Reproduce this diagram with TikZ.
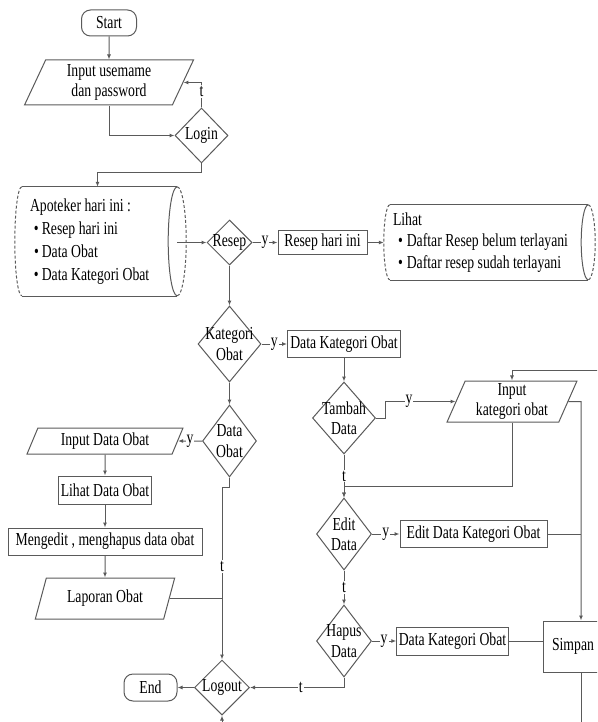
\documentclass[tikz,border=0pt]{standalone}
\usepackage{fontspec}
\setmainfont{Liberation Serif}[FakeStretch=0.75]
\usetikzlibrary{arrows.meta,positioning,calc,shapes.geometric}
\definecolor{lc}{HTML}{5A5A5A}
\newcommand{\fz}{\fontsize{18.3}{20.5}\selectfont}
\tikzset{>={Latex[length=5pt,width=4pt]},
    every node/.style={font=\fz},
    box/.style={draw=lc, line width=1pt, inner sep=2pt},
    term/.style={box, rounded corners=9pt},
    io/.style={box, trapezium, trapezium left angle=70, trapezium right angle=110, trapezium stretches=true, align=center},
    dec/.style={box, diamond, inner sep=0pt},
    flow/.style={draw=lc, line width=1pt, ->},
    link/.style={draw=lc, line width=1pt},
    dashline/.style={draw=lc, line width=1pt, dash pattern=on 3pt off 2pt},
    lbl/.style={fill=white, inner sep=1pt}
}

\begin{document}
\begin{tikzpicture}[x=1pt,y=-1pt]
    \useasboundingbox (0,0) rectangle (597,722);
    \clip (0,0) rectangle (597,722);

    % login
    \node[term, minimum width=55pt, minimum height=26pt] (start) at (109,23) {Start};
    \node[io, minimum width=169pt, minimum height=45pt] (inuser) at (109,82.5) {Input usemame\\dan password};
    \node[dec, minimum width=53pt, minimum height=55pt, label=center:Login] (login) at (201.5,135.5) {};
    \draw[flow] (start.south) -- (inuser.north);
    \draw[flow] (inuser.south) |- (login.west);
    \draw[flow] (login.north) |- node[lbl,pos=0.32] {t} (inuser.east);

    % apoteker
    \node[minimum width=155pt, minimum height=109pt, inner sep=0pt] (apt) at (99.5,241.5) {};
    \draw[link] (apt.north west) -- (apt.north east) (apt.south west) -- (apt.south east);
    \draw[dashline] (apt.north west) arc[start angle=90, end angle=270, x radius=7pt, y radius=54.5pt];
    \draw[link] (apt.north east) arc[start angle=90, end angle=270, x radius=9pt, y radius=54.5pt];
    \draw[dashline] (apt.north east) arc[start angle=90, end angle=-90, x radius=9pt, y radius=54.5pt];
    \node[anchor=west, align=left, inner sep=0pt] (apttxt) at ($(apt.west)+(8,0)$) {Apoteker hari ini :\\[2.5pt]
        \hspace*{4pt}\textbullet\hspace{3pt}Resep hari ini\\[2.5pt]
        \hspace*{4pt}\textbullet\hspace{3pt}Data Obat\\[2.5pt]
        \hspace*{4pt}\textbullet\hspace{3pt}Data Kategori Obat};
    \draw[flow] (login.south) -- ++(0,9) -| ([xshift=-2pt]apt.north);

    % resep
    \node[dec, minimum width=45pt, minimum height=45pt, label=center:Resep] (resep) at (229.5,242.5) {};
    \node[box, minimum width=89pt, minimum height=24pt] (rhi) at (322.5,242.5) {Resep hari ini};
    \node[minimum width=198pt, minimum height=75pt, inner sep=0pt] (lihat) at (489,242.5) {};
    \draw[link] (lihat.north west) -- (lihat.north east) (lihat.south west) -- (lihat.south east);
    \draw[dashline] (lihat.north west) arc[start angle=90, end angle=270, x radius=6pt, y radius=37.5pt];
    \draw[link] (lihat.north east) arc[start angle=90, end angle=270, x radius=7pt, y radius=37.5pt];
    \draw[dashline] (lihat.north east) arc[start angle=90, end angle=-90, x radius=7pt, y radius=37.5pt];
    \node[anchor=west, align=left, inner sep=0pt] (lihtxt) at ($(lihat.west)+(3,0)$) {Lihat\\[1pt]
        \hspace*{5pt}\textbullet\hspace{4pt}Daftar Resep belum terlayani\\[1pt]
        \hspace*{5pt}\textbullet\hspace{4pt}Daftar resep sudah terlayani};
    \draw[flow] (resep.west -| apt.east) -- (resep.west);
    \draw[flow] (resep.east) -- node[lbl] {y} (rhi.west);
    \draw[flow] (rhi.east) -- ($(lihat.west)+(-6,0)$);

    % data obat
    \node[dec, minimum width=63pt, minimum height=76pt, label={[align=center]center:Kategori\\Obat}] (katg) at (229.5,344) {};
    \node[box, minimum width=113pt, minimum height=27pt] (dko1) at (344,344) {Data Kategori Obat};
    \node[dec, minimum width=54pt, minimum height=72pt, label={[align=center]center:Data\\Obat}] (dobat) at (229.5,441) {};
    \node[io, minimum width=156pt, minimum height=26pt] (indo) at (105,441) {Input Data Obat};
    \node[box, minimum width=91pt, minimum height=28pt] (lihdo) at (105,490) {Lihat Data Obat};
    \node[box, minimum width=194pt, minimum height=27pt] (medit) at (105,541.5) {Mengedit , menghapus data obat};
    \node[io, minimum width=140pt, minimum height=41pt] (lapor) at (105,598.5) {Laporan Obat};
    \draw[flow] (resep.south) -- (katg.north);
    \draw[flow] (katg.east) -- node[lbl] {y} (dko1.west);
    \draw[flow] (katg.south) -- (dobat.north);
    \draw[flow] (dobat.west) -- node[lbl] {y} (indo.east);
    \draw[flow] (indo.south) -- (lihdo.north);
    \draw[flow] (lihdo.south) -- (medit.north);
    \draw[flow] (medit.south) -- (lapor.north);

    % logout
    \node[dec, minimum width=55pt, minimum height=55pt, label=center:Logout] (logout) at (222,687.5) {};
    \node[term, minimum width=53pt, minimum height=27pt] (endn) at (150.5,687.5) {End};
    \coordinate (lgin) at (222,740);
    \draw[flow] (logout.west) -- (endn.east);
    \draw[flow] (dobat.south) -- ++(0,10) -| node[lbl,pos=0.73] {t} (logout.north);
    \draw[link] (lapor.east) -- (lapor.east -| logout.north);
    \draw[flow] (lgin) -- (logout.south);

    % kategori obat
    \node[dec, minimum width=63pt, minimum height=72pt, label={[align=center]center:Tambah\\Data}] (tambah) at (344,418) {};
    \node[io, minimum width=130pt, minimum height=41pt] (inkat) at (512,401.5) {Input\\kategori obat};
    \node[dec, minimum width=55pt, minimum height=72pt, label={[align=center]center:Edit\\Data}] (edit) at (344,534) {};
    \node[box, minimum width=147pt, minimum height=27pt] (edko) at (473.5,534) {Edit Data Kategori Obat};
    \node[dec, minimum width=55pt, minimum height=72pt, label={[align=center]center:Hapus\\Data}] (hapus) at (344,641) {};
    \node[box, minimum height=28pt] (dko2) at (452.5,641) {Data Kategori Obat};
    \node[box, minimum width=60pt, minimum height=51pt] (simpan) at (573,646.5) {Simpan};
    \coordinate (bus) at (581,401.5);
    \coordinate (topin) at (620,370);
    \coordinate (simout) at (581,740);
    \draw[flow] (dko1.south) -- (tambah.north);
    \draw[flow] (tambah.east) -- ++(9,0) |- node[lbl,pos=0.67] {y} (inkat.west);
    \draw[flow] (tambah.south) -- node[lbl] {t} (edit.north);
    \draw[flow] (inkat.south) -- ++(0,64) -| (edit.north);
    \draw[flow] (edit.east) -- node[lbl] {y} (edko.west);
    \draw[flow] (edit.south) -- node[lbl] {t} (hapus.north);
    \draw[flow] (hapus.east) -- node[lbl] {y} (dko2.west);
    \draw[link] (dko2.east) -- (dko2.east -| simpan.west);
    \draw[flow] (hapus.south) |- node[lbl,pos=0.73] {t} (logout.east);
    \draw[flow] (inkat.east) -- (bus) -- (bus |- simpan.north);
    \draw[link] (edko.east) -- (edko.east -| bus);
    \draw[flow] (topin) -| (inkat.north);
    \draw[link] (bus |- simpan.south) -- (simout);
\end{tikzpicture}
\end{document}
